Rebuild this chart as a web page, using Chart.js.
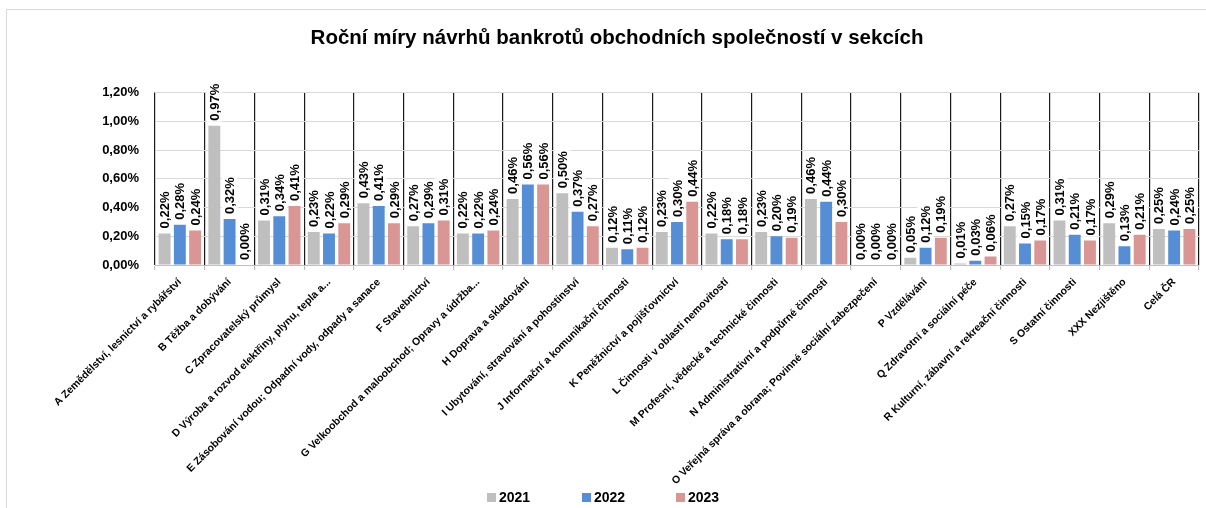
<!DOCTYPE html>
<html>
<head>
<meta charset="utf-8">
<script src="https://cdn.jsdelivr.net/npm/chart.js@4.4.1/dist/chart.umd.min.js"></script>
<style>
  body { margin: 0; background: #fff; }
  #wrap { position: relative; width: 1206px; height: 508px; }
  #frame { position: absolute; left: 6px; top: 9px; width: 1200px; height: 499px;
           border-top: 1px solid #d9d9d9; border-left: 1px solid #d9d9d9; pointer-events: none; }
</style>
</head>
<body>
<div id="wrap">
  <canvas id="graf" width="1206" height="508"></canvas>
  <div id="frame"></div>
</div>
<script>
var sekce = [
  'A Zemědělství, lesnictví a rybářství',
  'B Těžba a dobývání',
  'C Zpracovatelský průmysl',
  'D Výroba a rozvod elektřiny, plynu, tepla a...',
  'E Zásobování vodou; Odpadní vody, odpady a sanace',
  'F Stavebnictví',
  'G Velkoobchod a maloobchod; Opravy a údržba...',
  'H Doprava a skladování',
  'I Ubytování, stravování a pohostinství',
  'J Informační a komunikační činnosti',
  'K Peněžnictví a pojišťovnictví',
  'L Činnosti v oblasti nemovitostí',
  'M Profesní, vědecké a technické činnosti',
  'N Administrativní a podpůrné činnosti',
  'O Veřejná správa a obrana; Povinné sociální zabezpečení',
  'P Vzdělávání',
  'Q Zdravotní a sociální péče',
  'R Kulturní, zábavní a rekreační činnosti',
  'S Ostatní činnosti',
  'XXX Nezjištěno',
  'Celá ČR'
];
// hodnoty v procentech
var rok2021 = [0.22, 0.97, 0.31, 0.23, 0.43, 0.27, 0.22, 0.46, 0.50, 0.12, 0.23, 0.22, 0.23, 0.46, 0.00, 0.05, 0.01, 0.27, 0.31, 0.29, 0.25];
var rok2022 = [0.28, 0.32, 0.34, 0.22, 0.41, 0.29, 0.22, 0.56, 0.37, 0.11, 0.30, 0.18, 0.20, 0.44, 0.00, 0.12, 0.03, 0.15, 0.21, 0.13, 0.24];
var rok2023 = [0.24, 0.00, 0.41, 0.29, 0.29, 0.31, 0.24, 0.56, 0.27, 0.12, 0.44, 0.18, 0.19, 0.30, 0.00, 0.19, 0.06, 0.17, 0.17, 0.21, 0.25];
var roky = ['2021', '2022', '2023'];
var barvy = ['#bfbfbf', '#558ed5', '#da9694'];

var FONT = '"Liberation Sans", Arial, sans-serif';

function pct(v) {
  return v.toFixed(2).replace('.', ',') + '%';
}

// popisky hodnot nad sloupci (otočené o 90°)
var popisky = {
  id: 'popisky',
  afterDatasetsDraw: function(chart) {
    var ctx = chart.ctx;
    ctx.save();
    ctx.font = 'bold 13px ' + FONT;
    ctx.textBaseline = 'middle';
    ctx.textAlign = 'left';
    chart.data.datasets.forEach(function(ds, i) {
      var meta = chart.getDatasetMeta(i);
      meta.data.forEach(function(bar, j) {
        var txt = pct(ds.data[j]);
        var w = ctx.measureText(txt).width;
        var y0 = bar.y - 5;
        ctx.save();
        ctx.translate(bar.x, y0);
        ctx.rotate(-Math.PI / 2);
        ctx.fillStyle = '#fff';
        ctx.fillRect(-1, -8, w + 3, 16);
        ctx.fillStyle = '#000';
        ctx.fillText(txt, 0, 1);
        ctx.restore();
      });
    });
    ctx.restore();
  }
};

// legenda dole
var legenda = {
  id: 'legenda',
  afterDraw: function(chart) {
    var ctx = chart.ctx;
    var xs = [487, 582, 676];
    ctx.save();
    ctx.font = 'bold 14px ' + FONT;
    ctx.textBaseline = 'middle';
    ctx.textAlign = 'left';
    chart.data.datasets.forEach(function(ds, i) {
      ctx.fillStyle = ds.backgroundColor;
      ctx.fillRect(xs[i], 493, 9, 9);
      ctx.fillStyle = '#000';
      ctx.fillText(ds.label, xs[i] + 12, 498);
    });
    ctx.restore();
  }
};

var ctx = document.getElementById('graf').getContext('2d');
var myChart = new Chart(ctx, {
  type: 'bar',
  data: {
    labels: sekce,
    datasets: [
      { label: roky[0], data: rok2021, backgroundColor: barvy[0] },
      { label: roky[1], data: rok2022, backgroundColor: barvy[1] },
      { label: roky[2], data: rok2023, backgroundColor: barvy[2] }
    ]
  },
  options: {
    responsive: false,
    animation: false,
    barPercentage: 0.78,
    categoryPercentage: 0.92,
    layout: { padding: { left: 35, right: 7, top: 0, bottom: 22 } },
    plugins: {
      legend: { display: false },
      tooltip: { enabled: false },
      title: {
        display: true,
        text: 'Roční míry návrhů bankrotů obchodních společností v sekcích',
        color: '#000',
        font: { family: FONT, size: 20.5, weight: 'bold' },
        padding: { top: 26, bottom: 42 }
      }
    },
    scales: {
      x: {
        offset: true,
        grid: { offset: true, color: '#1a1a1a', lineWidth: 1.2, tickColor: '#bfbfbf', tickLength: 5 },
        border: { color: '#bfbfbf' },
        ticks: {
          color: '#000',
          font: { family: FONT, size: 10.5, weight: 'bold' },
          minRotation: 45, maxRotation: 45,
          autoSkip: false,
          padding: 6
        },
        afterFit: function(scale) { scale.height = 221; }
      },
      y: {
        min: 0, max: 1.2,
        grid: { color: '#d9d9d9', drawTicks: false },
        border: { display: false },
        ticks: {
          stepSize: 0.2,
          color: '#000',
          padding: 16,
          font: { family: FONT, size: 13, weight: 'bold' },
          callback: function(v) { return pct(v); }
        },
        afterFit: function(scale) { scale.width = 120; }
      }
    }
  },
  plugins: [popisky, legenda]
});
</script>
</body>
</html>
